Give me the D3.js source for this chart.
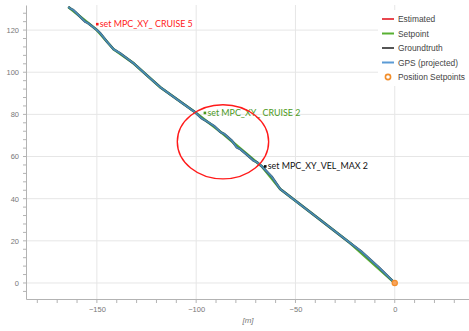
<!DOCTYPE html>
<html>
<head>
<meta charset="utf-8">
<script src="https://cdn.jsdelivr.net/npm/d3@7"></script>
<style>
  html, body { margin: 0; padding: 0; background: #fff; }
  svg { display: block; }
</style>
</head>
<body>
<svg id="chart" width="469" height="331"></svg>
<script>
// ─── Data ────────────────────────────────────────────────────────────────────
// Flown track (x, y in metres)
const trackX = [-164.4, -163.0, -162.0, -160.0, -157.0, -155.8, -155.0, -154.2, -152.0, -150.0,
  -148.3, -144.9, -141.6, -138.3, -131.6, -124.8, -118.1, -108.1, -100.5, -97.5,
  -96.3, -95.2, -91.0, -88.0, -87.0, -86.0, -82.0, -79.5, -78.8, -78.0,
  -74.0, -71.0, -70.0, -69.0, -66.9, -62.0, -57.7, -50.0, -37.6, -22.5,
  -17.0, -8.0, 0.0];
const trackY = [131.0, 130.0, 129.6, 127.8, 125.0, 123.9, 123.6, 123.1, 121.5, 120.0,
  118.5, 114.5, 110.9, 109.0, 104.3, 98.5, 92.9, 86.1, 81.0, 78.3,
  77.6, 77.0, 74.5, 71.8, 71.2, 70.8, 67.5, 64.3, 64.0, 63.6,
  60.5, 58.0, 57.6, 57.0, 55.3, 50.5, 44.6, 39.0, 30.0, 19.0,
  15.1, 7.4, 0.0];

// Setpoint path
const setX = [-164.4, -150.0, -141.6, -131.6, -118.1, -100.5, -87.0, -70.0, -66.9, -57.7, -37.6, -22.5, 0.0];
const setY = [131.0, 120.0, 110.9, 104.3, 92.9, 81.0, 71.2, 57.6, 55.3, 44.6, 30.0, 19.0, 0.0];

// Position setpoint markers
const posSetX = [0];
const posSetY = [0];

// Parameter-change annotations
const noteText = ['set MPC_XY_ CRUISE 5', 'set MPC_XY_ CRUISE 2', 'set MPC_XY_VEL_MAX 2'];
const noteX = [-149.8, -95.6, -65.2];
const noteY = [122.8, 80.7, 55.3];
const noteColor = ['#ff1a1a', '#4c9a1c', '#111111'];

// Highlight ellipse (data coords of centre and half extents)
const ringCx = [-86.5];
const ringCy = [67.0];
const ringRx = [23.0];
const ringRy = [17.6];

const xTicks = [-150, -100, -50, 0];
const yTicks = [0, 20, 40, 60, 80, 100, 120];

const legendLabels = ['Estimated', 'Setpoint', 'Groundtruth', 'GPS (projected)', 'Position Setpoints'];
const legendColors = ['#e8474f', '#58b032', '#555555', '#5b9bd5', '#f28e2b'];

// ─── Layout ──────────────────────────────────────────────────────────────────
const W = 469, H = 331;
const m = { top: 5, right: 0, bottom: 32, left: 26 };
const F = 'Liberation Sans, Arial, sans-serif';
const FA = 'Lato, Calibri, sans-serif';

const svg = d3.select('#chart');

const x = d3.scaleLinear().domain([-185.7, 37.4]).range([m.left, W - m.right]);
const y = d3.scaleLinear().domain([-7.6, 131.9]).range([H - m.bottom, m.top]);

svg.append('clipPath').attr('id', 'plotclip').append('rect')
  .attr('x', m.left).attr('y', m.top)
  .attr('width', W - m.right - m.left).attr('height', H - m.bottom - m.top);

// Gridlines
svg.append('g').selectAll('line').data(xTicks).enter().append('line')
  .attr('x1', d => x(d)).attr('x2', d => x(d))
  .attr('y1', m.top).attr('y2', H - m.bottom)
  .attr('stroke', '#e6e6e6').attr('stroke-width', 1);
svg.append('g').selectAll('line').data(yTicks).enter().append('line')
  .attr('x1', m.left).attr('x2', W - m.right)
  .attr('y1', d => y(d)).attr('y2', d => y(d))
  .attr('stroke', '#e6e6e6').attr('stroke-width', 1);

// Axes
const xAxis = d3.axisBottom(x).tickValues(xTicks).tickSize(0).tickPadding(8)
  .tickFormat(d3.format('d'));
const gx = svg.append('g').attr('transform', `translate(0,${H - m.bottom})`).call(xAxis);
const xMinor = d3.range(-180, 40, 10);
gx.selectAll('line.minor').data(xMinor).enter().append('line')
  .attr('class', 'minor')
  .attr('x1', d => x(d)).attr('x2', d => x(d)).attr('y1', 0).attr('y2', 4)
  .attr('stroke', '#b3b3b3');

const yAxis = d3.axisLeft(y).tickValues(yTicks).tickSize(0).tickPadding(7)
  .tickFormat(d3.format('d'));
const gy = svg.append('g').attr('transform', `translate(${m.left},0)`).call(yAxis);
const yMinor = d3.range(-4, 132, 4);
gy.selectAll('line.minor').data(yMinor).enter().append('line')
  .attr('class', 'minor')
  .attr('x1', -3).attr('x2', 0).attr('y1', d => y(d)).attr('y2', d => y(d))
  .attr('stroke', '#b3b3b3');

[gx, gy].forEach(g => {
  g.select('.domain').attr('stroke', '#b3b3b3');
  g.selectAll('text').attr('fill', '#777').attr('font-size', 7.5).attr('font-family', F);
});

svg.append('text')
  .attr('x', (x.range()[0] + x.range()[1]) / 2 + 0.5).attr('y', H - 8)
  .attr('text-anchor', 'middle').attr('font-size', 8).attr('font-style', 'italic')
  .attr('fill', '#777').attr('font-family', F)
  .text('[m]');

// ─── Series ──────────────────────────────────────────────────────────────────
const plot = svg.append('g').attr('clip-path', 'url(#plotclip)');
const line = d3.line().x(d => x(d[0])).y(d => y(d[1]));
const track = trackX.map((v, i) => [v, trackY[i]]);
const setp = setX.map((v, i) => [v, setY[i]]);

plot.append('path').datum(track).attr('d', line)
  .attr('fill', 'none').attr('stroke', legendColors[0]).attr('stroke-width', 1.5);
plot.append('path').datum(setp).attr('d', line)
  .attr('fill', 'none').attr('stroke', legendColors[1]).attr('stroke-width', 2.6)
  .attr('stroke-linejoin', 'round');
plot.append('path').datum(track).attr('d', line)
  .attr('fill', 'none').attr('stroke', '#35596a').attr('stroke-width', 2.4)
  .attr('stroke-linejoin', 'round');
plot.append('path').datum(track).attr('d', line)
  .attr('fill', 'none').attr('stroke', '#4c92bf').attr('stroke-width', 1.5)
  .attr('stroke-opacity', 0.9).attr('stroke-linejoin', 'round');

plot.selectAll('circle.pos').data(posSetX).enter().append('circle')
  .attr('class', 'pos')
  .attr('cx', d => x(d)).attr('cy', (d, i) => y(posSetY[i])).attr('r', 2.6)
  .attr('fill', '#f7a35c').attr('stroke', legendColors[4]).attr('stroke-width', 1.2);

// Annotations
noteText.forEach((t, i) => {
  svg.append('rect')
    .attr('x', x(noteX[i]) - 1.3).attr('y', y(noteY[i]) - 1.3)
    .attr('width', 2.6).attr('height', 2.6).attr('fill', noteColor[i]);
  svg.append('text')
    .attr('x', x(noteX[i]) + 2.5).attr('y', y(noteY[i]) + 3)
    .attr('font-size', 8.9).attr('font-family', FA)
    .attr('fill', noteColor[i]).text(t);
});

svg.selectAll('ellipse.ring').data(ringCx).enter().append('ellipse')
  .attr('class', 'ring')
  .attr('cx', d => x(d)).attr('cy', (d, i) => y(ringCy[i]))
  .attr('rx', (d, i) => x(d + ringRx[i]) - x(d))
  .attr('ry', (d, i) => y(ringCy[i] - ringRy[i]) - y(ringCy[i]))
  .attr('fill', 'none').attr('stroke', '#ff1a1a').attr('stroke-width', 1.4);

// ─── Legend ──────────────────────────────────────────────────────────────────
const lg = svg.append('g').attr('transform', 'translate(378,10)');
lg.append('rect').attr('width', 91).attr('height', 76).attr('fill', '#fff');
legendLabels.forEach((lab, i) => {
  const g = lg.append('g').attr('transform', `translate(0,${9 + i * 14.5})`);
  if (i < 4) {
    g.append('line').attr('x1', 4).attr('x2', 16).attr('y1', 0).attr('y2', 0)
      .attr('stroke', legendColors[i]).attr('stroke-width', 2);
  } else {
    g.append('circle').attr('cx', 10).attr('cy', 0).attr('r', 2.6)
      .attr('fill', '#fff').attr('stroke', legendColors[i]).attr('stroke-width', 1.6);
  }
  g.append('text').attr('x', 20).attr('y', 3).attr('font-size', 8.4)
    .attr('fill', '#444').attr('font-family', F).text(lab);
});
</script>
</body>
</html>
